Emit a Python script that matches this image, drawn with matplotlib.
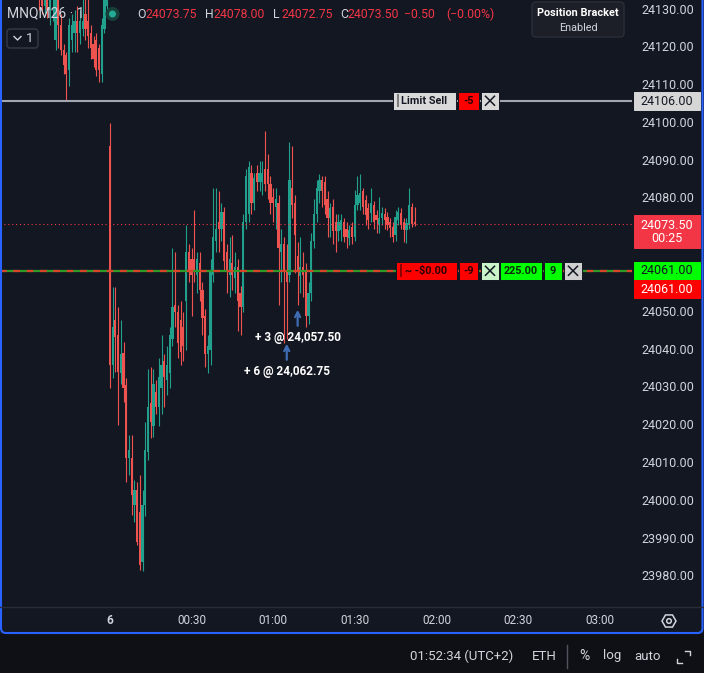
import math
import matplotlib
matplotlib.use("Agg")
import matplotlib.pyplot as plt
from matplotlib.patches import Rectangle, FancyBboxPatch, Circle, RegularPolygon

# MNQM26 1 minute chart, dark theme

# last bars of the previous session (bar index -26 .. -1)
prev_open = [24140, 24136, 24131, 24136, 24130, 24133, 24122, 24133, 24126, 24119.5,
             24118, 24114, 24122, 24124, 24127, 24124, 24125, 24129, 24127, 24124,
             24121, 24122, 24120, 24113, 24125, 24131]
prev_high = [24142, 24138, 24139, 24138, 24140, 24141, 24136, 24135, 24129, 24121,
             24119, 24128, 24129, 24130, 24131, 24130, 24133, 24136, 24135, 24126,
             24123, 24124, 24121, 24128, 24137, 24141]
prev_low = [24130, 24129, 24129, 24128, 24126, 24127, 24119.5, 24120, 24118, 24113,
            24106.2, 24110, 24119, 24119, 24119, 24121, 24123, 24122, 24120, 24117,
            24115, 24112.5, 24111, 24111, 24124, 24129]
prev_close = [24134, 24131, 24136, 24130, 24135, 24138, 24133, 24126, 24119.5, 24115.5,
              24113, 24126, 24126, 24127, 24124, 24127, 24127, 24125, 24123, 24120,
              24117, 24114, 24114, 24126, 24133, 24138]

# session from 00:00 (bar index 0 .. 112)
sess_open = [24094, 24036, 24048, 24044, 24034, 24039.3, 24030.8, 24011.5, 24011.5, 23999,
             24003, 23997.2, 23984, 23999, 24013, 24026, 24020, 24029, 24025, 24030,
             24037, 24032, 24034, 24043, 24052, 24050, 24048, 24046, 24053, 24066,
             24064, 24064, 24060, 24063, 24056, 24049, 24039, 24040, 24060, 24069,
             24074, 24072, 24076.5, 24066, 24060, 24063, 24059, 24062, 24055, 24051.5,
             24074, 24076, 24087, 24079, 24087, 24084.5, 24084.5, 24088, 24088, 24084,
             24080.5, 24078, 24079, 24066, 24068, 24061, 24060, 24083, 24079, 24065,
             24059.5, 24062, 24061, 24049, 24055, 24069, 24076, 24082, 24085, 24084.5,
             24080, 24075, 24078, 24074, 24071.5, 24071.8, 24074, 24072, 24069.7, 24072.6,
             24070, 24078.4, 24079, 24082, 24079.7, 24077.6, 24076.3, 24078.4, 24075.8, 24073,
             24075, 24076, 24075.2, 24074, 24072.6, 24070.5, 24074.4, 24076.3, 24074, 24071.8,
             24073, 24078, 24073.75]
sess_high = [24100, 24056.7, 24056.7, 24051.4, 24048, 24042.2, 24032.6, 24017.6, 24017.6, 24005.7,
             24005, 24007, 24003, 24021, 24035, 24035.5, 24035, 24032, 24038, 24044,
             24039, 24041, 24046, 24067, 24066, 24052, 24053, 24050, 24073, 24068,
             24067, 24077, 24066, 24066, 24058, 24051, 24044, 24064, 24083, 24083,
             24082, 24079, 24078, 24068, 24070, 24070.5, 24066, 24064, 24057, 24076,
             24088, 24090, 24089, 24087, 24089, 24090, 24090, 24098, 24092, 24086,
             24083, 24083, 24081, 24072, 24070, 24068, 24095, 24094, 24081, 24068.5,
             24070, 24066, 24063, 24058, 24071, 24080, 24085, 24086.5, 24086, 24086,
             24082, 24079, 24080, 24076, 24076, 24076, 24075, 24074, 24073, 24074,
             24082.4, 24086, 24086.5, 24083, 24081, 24079, 24083, 24079.5, 24077, 24080.5,
             24078, 24077.5, 24076.5, 24075, 24074, 24077, 24078, 24077.5, 24075, 24075,
             24083, 24079, 24078]
sess_low = [24030, 24032.6, 24034.2, 24020.2, 24031, 24026.3, 24005.1, 24007, 23996.4, 23994.5,
            23988.5, 23981.9, 23981.5, 23996, 24011, 24016.8, 24017, 24023, 24020, 24023,
            24025, 24028, 24030, 24041, 24046, 24038, 24036, 24037, 24040, 24058,
            24049, 24058, 24055, 24053, 24044, 24035.5, 24034, 24036, 24058, 24066,
            24066, 24069, 24061, 24055, 24054, 24056, 24055, 24045, 24044, 24050,
            24072, 24074, 24076, 24077, 24082, 24082, 24081, 24082, 24080, 24076,
            24074, 24072, 24052, 24058, 24042, 24043, 24058, 24075, 24060.5, 24052,
            24055, 24054, 24046, 24047, 24053, 24067, 24074, 24079, 24078, 24076,
            24070, 24070, 24068, 24066, 24069, 24069, 24068.5, 24067, 24067.8, 24068,
            24069, 24077, 24077, 24076, 24073, 24072, 24074, 24072, 24071, 24071,
            24073, 24072, 24071.8, 24070, 24068.6, 24069, 24073, 24072, 24068.6, 24068.3,
            24072, 24072.5, 24072.75]
sess_close = [24036, 24046, 24043.5, 24034.2, 24039, 24030, 24011.5, 24013.6, 24001.7, 24003,
              23989.3, 23983.2, 23999, 24013.5, 24025, 24021, 24031, 24025, 24033, 24036,
              24033, 24036, 24044, 24051.4, 24050, 24042, 24039.5, 24041, 24066, 24061,
              24060, 24061, 24064, 24056, 24048.5, 24039, 24041, 24061, 24070, 24072,
              24072, 24076.5, 24063.5, 24061, 24064, 24060, 24062, 24053, 24051.5, 24074,
              24086, 24088.5, 24079, 24085.5, 24084.5, 24087, 24087, 24084, 24084, 24079,
              24079, 24080, 24067, 24068, 24061, 24058, 24085, 24078.5, 24070.5, 24061,
              24062, 24060, 24049, 24055, 24069, 24076, 24083, 24085, 24082, 24078.4,
              24075, 24077.6, 24071.5, 24071.5, 24074, 24074.4, 24070, 24070, 24071.8, 24070,
              24078.4, 24081, 24081.5, 24078, 24075.8, 24074.4, 24079, 24074, 24074.4, 24075,
              24076.3, 24074.4, 24073, 24072.4, 24070, 24075.2, 24076.6, 24073, 24071.8, 24073.6,
              24078.4, 24073.5, 24073.5]

time_ticks = [0, 30, 60, 90, 120, 150, 180]
time_labels = ['6', '00:30', '01:00', '01:30', '02:00', '02:30', '03:00']
# 24070 and 24060 sit under the price tags
price_ticks = [24130, 24120, 24110, 24100, 24090, 24080,
               24050, 24040, 24030, 24020, 24010, 24000, 23990, 23980]

limit_price = 24106.0
limit_label = '-5'
position_price = 24061.0
position_labels = ['~ -$0.00', '-9', '225.00', '9']
last_price = 24073.5
countdown = '00:25'
fill_bars = [65, 69]
fill_texts = ['+ 6 @ 24,062.75', '+ 3 @ 24,057.50']
header_vals = ['24073.75', '24078.00', '24072.75', '24073.50']
header_chg = ['\u22120.50', '(\u22120.00%)']

BG = '#131722'
UP = '#22a08e'
DN = '#ef5350'
TXT = '#d1d4dc'
DARK = '#131722'

plt.rcParams['font.family'] = ['Roboto', 'DejaVu Sans']

W, H = 704, 673
PLOT_W, PLOT_H = 632, 606
Y_TOP, Y_BOT = 24132.65, 23972.3

fig = plt.figure(figsize=(W / 100, H / 100), dpi=100)
fig.patch.set_facecolor(BG)

ax = fig.add_axes([0, 1 - PLOT_H / H, PLOT_W / W, PLOT_H / H])
ax.set_facecolor(BG)
ax.set_xlim(-40.4, 191.9)
ax.set_ylim(Y_BOT, Y_TOP)
for s in ax.spines.values():
    s.set_visible(False)
ax.set_xticks([])
ax.set_yticks([])

ppp = (Y_TOP - Y_BOT) / PLOT_H   # price per pixel
ytr = ax.get_yaxis_transform()
xtr = ax.get_xaxis_transform()

# candles
opens = prev_open + sess_open
highs = prev_high + sess_high
lows = prev_low + sess_low
closes = prev_close + sess_close
xs = list(range(-len(prev_open), len(sess_open)))
cols = [UP if c >= o else DN for o, c in zip(opens, closes)]
ax.vlines(xs, lows, highs, colors=cols, lw=0.8, zorder=2)
ax.bar(xs, [max(abs(c - o), 0.35) for o, c in zip(opens, closes)],
       bottom=[min(o, c) for o, c in zip(opens, closes)],
       width=0.82, color=cols, lw=0, zorder=3)

# price lines
ax.axhline(limit_price, color='#a3a6af', lw=1.5, zorder=4)
ax.axhline(last_price, color='#f23645', lw=0.8, ls=(0, (1, 2.5)), zorder=4)
ax.axhline(position_price, color='#2f9a2a', lw=1.6, zorder=4)
ax.axhline(position_price, color='#d8452b', lw=1.6, ls=(0, (3, 3)), zorder=4)


def tag(x0, x1, price, fc, text='', tc=DARK, h=18, dy=0, fs=7.8, weight='bold', ec=DARK):
    yc = price - dy * ppp
    ax.add_patch(Rectangle((x0 / PLOT_W, yc - h / 2 * ppp), (x1 - x0) / PLOT_W, h * ppp,
                           transform=ytr, fc=fc, ec=ec, lw=0.7, clip_on=False, zorder=6))
    if text:
        ax.text((x0 + x1) / 2 / PLOT_W, yc, text, transform=ytr, ha='center', va='center',
                color=tc, fontsize=fs, fontweight=weight, clip_on=False, zorder=7)


def cross(x0, x1, price, fc):
    tag(x0, x1, price, fc)
    xc, s = (x0 + x1) / 2, 4.5
    for sg in (1, -1):
        ax.plot([(xc - s) / PLOT_W, (xc + s) / PLOT_W], [price - sg * s * ppp, price + sg * s * ppp],
                transform=ytr, color=DARK, lw=1.1, clip_on=False, zorder=7)


def bar_mark(x, price, col):
    ax.plot([x / PLOT_W, x / PLOT_W], [price - 5.5 * ppp, price + 5.5 * ppp], transform=ytr,
            color=col, lw=1.4, clip_on=False, zorder=7)


# limit order tag
tag(393, 456, limit_price, '#d9d9d9', 'Limit Sell', dy=0.5)
bar_mark(398, limit_price, '#7a7a7a')
tag(458, 479, limit_price, '#ff0000', limit_label, tc='#2a0000', dy=0.5)
cross(481, 499, limit_price, '#d9d9d9')

# position tag
tag(396, 457, position_price, '#ff0000', position_labels[0], tc='#2a0000')
bar_mark(401, position_price, '#8a0000')
tag(459, 478, position_price, '#ff0000', position_labels[1], tc='#2a0000')
cross(481, 499, position_price, '#c9f5c9')
tag(500, 542, position_price, '#00ff00', position_labels[2], tc='#0a2a0a')
tag(544, 562, position_price, '#00ff00', position_labels[3], tc='#0a2a0a')
cross(564, 582, position_price, '#d0d0d0')

# price scale
for p in price_ticks:
    ax.text(668 / PLOT_W, p, f'{p:.2f}', transform=ytr, ha='center', va='center',
            color=TXT, fontsize=9, clip_on=False, zorder=1)
tag(634, 700, limit_price, '#d6d6d6', f'{limit_price:.2f}', fs=9, weight='normal', dy=0.5, ec='#d6d6d6')
tag(634, 700, last_price, '#f23645', '', h=33, dy=8, ec='#f23645')
ax.text(667 / PLOT_W, last_price - 1.5 * ppp, f'{last_price:.2f}', transform=ytr, ha='center',
        va='center', color='white', fontsize=9, clip_on=False, zorder=7)
ax.text(667 / PLOT_W, last_price - 15 * ppp, countdown, transform=ytr, ha='center',
        va='center', color='white', fontsize=9, clip_on=False, zorder=7)
tag(634, 700, position_price, '#00ff00', f'{position_price:.2f}', tc=DARK, fs=9,
    weight='normal', ec='#00ff00')
tag(634, 700, position_price, '#ff0000', f'{position_price:.2f}', tc='white', fs=9,
    weight='normal', dy=18.5, ec='#ff0000')

# executions
for b, t in zip(fill_bars, fill_texts):
    low = sess_low[b]
    ax.annotate('', xy=(b, low - 5 * ppp), xytext=(b, low - 21 * ppp),
                arrowprops=dict(arrowstyle='->,head_length=0.35,head_width=0.18',
                                color='#3f6db4', lw=1.6, shrinkA=0, shrinkB=0), zorder=5)
    ax.text(b, low - 33 * ppp, t, ha='center', va='center', color='white',
            fontsize=8.5, fontweight='bold', zorder=5)

# time scale
for t, lab in zip(time_ticks, time_labels):
    ax.text(t, -14 / PLOT_H, lab, transform=xtr, ha='center', va='center', color=TXT,
            fontsize=8.5, fontweight='bold' if lab == '6' else 'normal', clip_on=False)

# chrome in pixel coordinates
ov = fig.add_axes([0, 0, 1, 1], zorder=5)
ov.set_xlim(0, W)
ov.set_ylim(H, 0)
ov.axis('off')

ov.plot([0, W], [607, 607], color='#2a2e39', lw=1)
ov.add_patch(Rectangle((0, 634), W, H - 634, fc='#0f1015', ec='none'))
ov.add_patch(FancyBboxPatch((1, -20), 701.5, 653, boxstyle='round,pad=0,rounding_size=5',
                            fc='none', ec='#2962ff', lw=1.5))

# header
ov.text(7, 13, 'MNQM26 \u00b7 1', ha='left', va='center', color=TXT, fontsize=10)
ov.add_patch(Circle((112.5, 14), 7, fc='#17403b', ec='none'))
ov.add_patch(Circle((112.5, 14), 3.5, fc='#22ab94', ec='none'))
for letter, xl, val, xv in zip('OHLC', [137, 205, 273, 340], header_vals, [146, 214, 281, 348]):
    ov.text(xl, 14, letter, ha='left', va='center', color=TXT, fontsize=8.8)
    ov.text(xv, 14, val, ha='left', va='center', color='#f23645', fontsize=8.8)
ov.text(404, 14, header_chg[0], ha='left', va='center', color='#f23645', fontsize=8.8)
ov.text(446, 14, header_chg[1], ha='left', va='center', color='#f23645', fontsize=8.8)

ov.add_patch(FancyBboxPatch((7, 29), 31, 19, boxstyle='round,pad=0,rounding_size=3',
                            fc='none', ec='#363a45', lw=1))
ov.plot([14, 17.5, 21], [36.5, 40, 36.5], color=TXT, lw=1)
ov.text(30, 39, '1', ha='center', va='center', color=TXT, fontsize=9.5)

ov.add_patch(FancyBboxPatch((532, 2), 92, 35, boxstyle='round,pad=0,rounding_size=4',
                            fc='#1c1f27', ec='#2a2e39', lw=1))
ov.text(578, 13, 'Position Bracket', ha='center', va='center', color='white',
        fontsize=7.8, fontweight='bold')
ov.text(578, 28, 'Enabled', ha='center', va='center', color=TXT, fontsize=7.8)

# gear icon
ov.add_patch(RegularPolygon((669, 621), 6, radius=7, orientation=math.pi / 6,
                            fc='none', ec=TXT, lw=1.1))
ov.add_patch(Circle((669, 621), 2.3, fc='none', ec=TXT, lw=1.1))

# bottom bar
ov.text(410, 656, '01:52:34 (UTC+2)', ha='left', va='center', color=TXT, fontsize=9.5)
ov.text(532, 656, 'ETH', ha='left', va='center', color=TXT, fontsize=9.5)
ov.plot([567, 567], [645, 668], color='#50535e', lw=1)
ov.text(584, 656, '%', ha='center', va='center', color=TXT, fontsize=10)
ov.text(603, 656, 'log', ha='left', va='center', color=TXT, fontsize=9.5)
ov.text(634, 656, 'auto', ha='left', va='center', color=TXT, fontsize=9.5)
ov.plot([685, 689.5, 689.5], [650.5, 650.5, 655], color=TXT, lw=1)
ov.plot([677, 677, 681.5], [658.5, 663, 663], color=TXT, lw=1)

fig.savefig('out.png', dpi=100, facecolor=fig.get_facecolor())
